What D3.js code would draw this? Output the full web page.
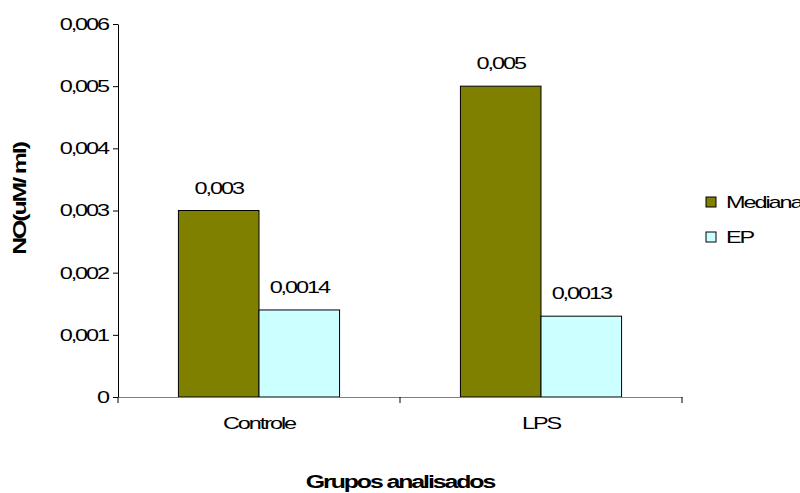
<!DOCTYPE html>
<html>
  <head>
    <meta charset="UTF-8" />
    <title>NO</title>
    <script src="https://d3js.org/d3.v7.min.js"></script>
    <style>
      body { margin: 0; background: #fff; }
      svg text { font-family: "Liberation Sans", Arial, sans-serif; fill: #000; }
    </style>
  </head>
  <body>
    <svg width="800" height="493"></svg>
    <script>
      var grupos = ["Controle", "LPS"];
      var series = ["Mediana", "EP"];
      var mediana = [0.003, 0.005];
      var ep = [0.0014, 0.0013];
      var yTicks = [0, 0.001, 0.002, 0.003, 0.004, 0.005, 0.006];
      var cores = ["#808000", "#CCFFFF"];

      var data = grupos.map(function (g, i) {
        return { grupo: g, Mediana: mediana[i], EP: ep[i] };
      });

      var sx = 1.38; // the original text is stretched sideways
      var fs = 17;
      var ls = "-1.5px";
      var fmt = function (v) {
        return v === 0 ? "0" : String(v).replace(".", ",");
      };

      var svg = d3.select("svg"),
        margin = { top: 24, left: 118, right: 118, bottom: 96 },
        width = +svg.attr("width") - margin.left - margin.right,
        height = +svg.attr("height") - margin.top - margin.bottom,
        g = svg.append("g").attr("transform", "translate(" + margin.left + "," + margin.top + ")");

      var x0 = d3.scaleBand().domain(grupos).range([0, width]).padding(0);
      var x1 = d3.scaleBand().domain(series).range([0, x0.bandwidth()]).paddingInner(0).paddingOuter(0.75);
      var y = d3.scaleLinear().domain([0, 0.006]).range([height, 0]);
      var color = d3.scaleOrdinal().domain(series).range(cores);

      // y axis
      var ya = g.append("g").call(d3.axisLeft(y).tickValues(yTicks).tickFormat(fmt).tickSize(5).tickSizeOuter(0));
      ya.select(".domain").attr("stroke", "#000");
      ya.selectAll(".tick line").attr("stroke", "#000");
      ya.selectAll("text")
        .attr("font-size", fs)
        .attr("letter-spacing", ls)
        .attr("x", -10 / sx)
        .attr("transform", "scale(" + sx + ",1)")
        .attr("font-family", null);

      // bars
      var grp = g.append("g").selectAll("g").data(data).enter().append("g")
        .attr("transform", function (d) { return "translate(" + x0(d.grupo) + ",0)"; });
      var bars = grp.selectAll("g").data(function (d) {
        return series.map(function (k) { return { key: k, value: d[k] }; });
      }).enter().append("g");
      bars.append("rect")
        .attr("x", function (d) { return x1(d.key); })
        .attr("y", function (d) { return y(d.value); })
        .attr("width", x1.bandwidth())
        .attr("height", function (d) { return height - y(d.value); })
        .attr("fill", function (d) { return color(d.key); })
        .attr("stroke", "#000")
        .attr("stroke-width", 1);
      bars.append("text")
        .attr("transform", function (d) {
          return "translate(" + (x1(d.key) + x1.bandwidth() / 2) + "," + (y(d.value) - 17) + ") scale(" + sx + ",1)";
        })
        .attr("text-anchor", "middle")
        .attr("font-size", fs)
        .attr("letter-spacing", ls)
        .text(function (d) { return fmt(d.value); });

      // x axis: ticks at the category boundaries
      var xa = g.append("g").attr("transform", "translate(0," + height + ")")
        .call(d3.axisBottom(x0).tickSize(0).tickSizeOuter(0));
      xa.select(".domain").attr("stroke", "#808080");
      xa.selectAll(".tick text")
        .attr("font-size", fs)
        .attr("letter-spacing", ls)
        .attr("y", 0)
        .attr("dy", 0)
        .attr("transform", "translate(0,32) scale(" + sx + ",1)")
        .attr("font-family", null);
      var bounds = grupos.map(function (d) { return x0(d); }).concat([width]);
      xa.selectAll(".bound").data(bounds).enter().append("line")
        .attr("x1", function (d) { return d; })
        .attr("x2", function (d) { return d; })
        .attr("y1", 0)
        .attr("y2", 6)
        .attr("stroke", "#000");

      // titles
      svg.append("text")
        .attr("transform", "translate(400,488) scale(" + sx + ",1)")
        .attr("text-anchor", "middle")
        .attr("font-size", 18)
        .attr("font-weight", "bold")
        .attr("letter-spacing", ls)
        .text("Grupos analisados");
      svg.append("text")
        .attr("transform", "translate(26,199) rotate(-90) scale(" + sx + ",1)")
        .attr("text-anchor", "middle")
        .attr("font-size", 18)
        .attr("font-weight", "bold")
        .attr("letter-spacing", ls)
        .text("NO(uM/ ml)");

      // legend
      var legend = svg.append("g").selectAll("g").data(series).enter().append("g")
        .attr("transform", function (d, i) { return "translate(706," + (197 + i * 35) + ")"; });
      legend.append("rect")
        .attr("width", 10)
        .attr("height", 10)
        .attr("fill", function (d) { return color(d); })
        .attr("stroke", "#000");
      legend.append("text")
        .attr("transform", "translate(20,11) scale(" + sx + ",1)")
        .attr("font-size", fs)
        .attr("letter-spacing", ls)
        .text(function (d) { return d; });
    </script>
  </body>
</html>
